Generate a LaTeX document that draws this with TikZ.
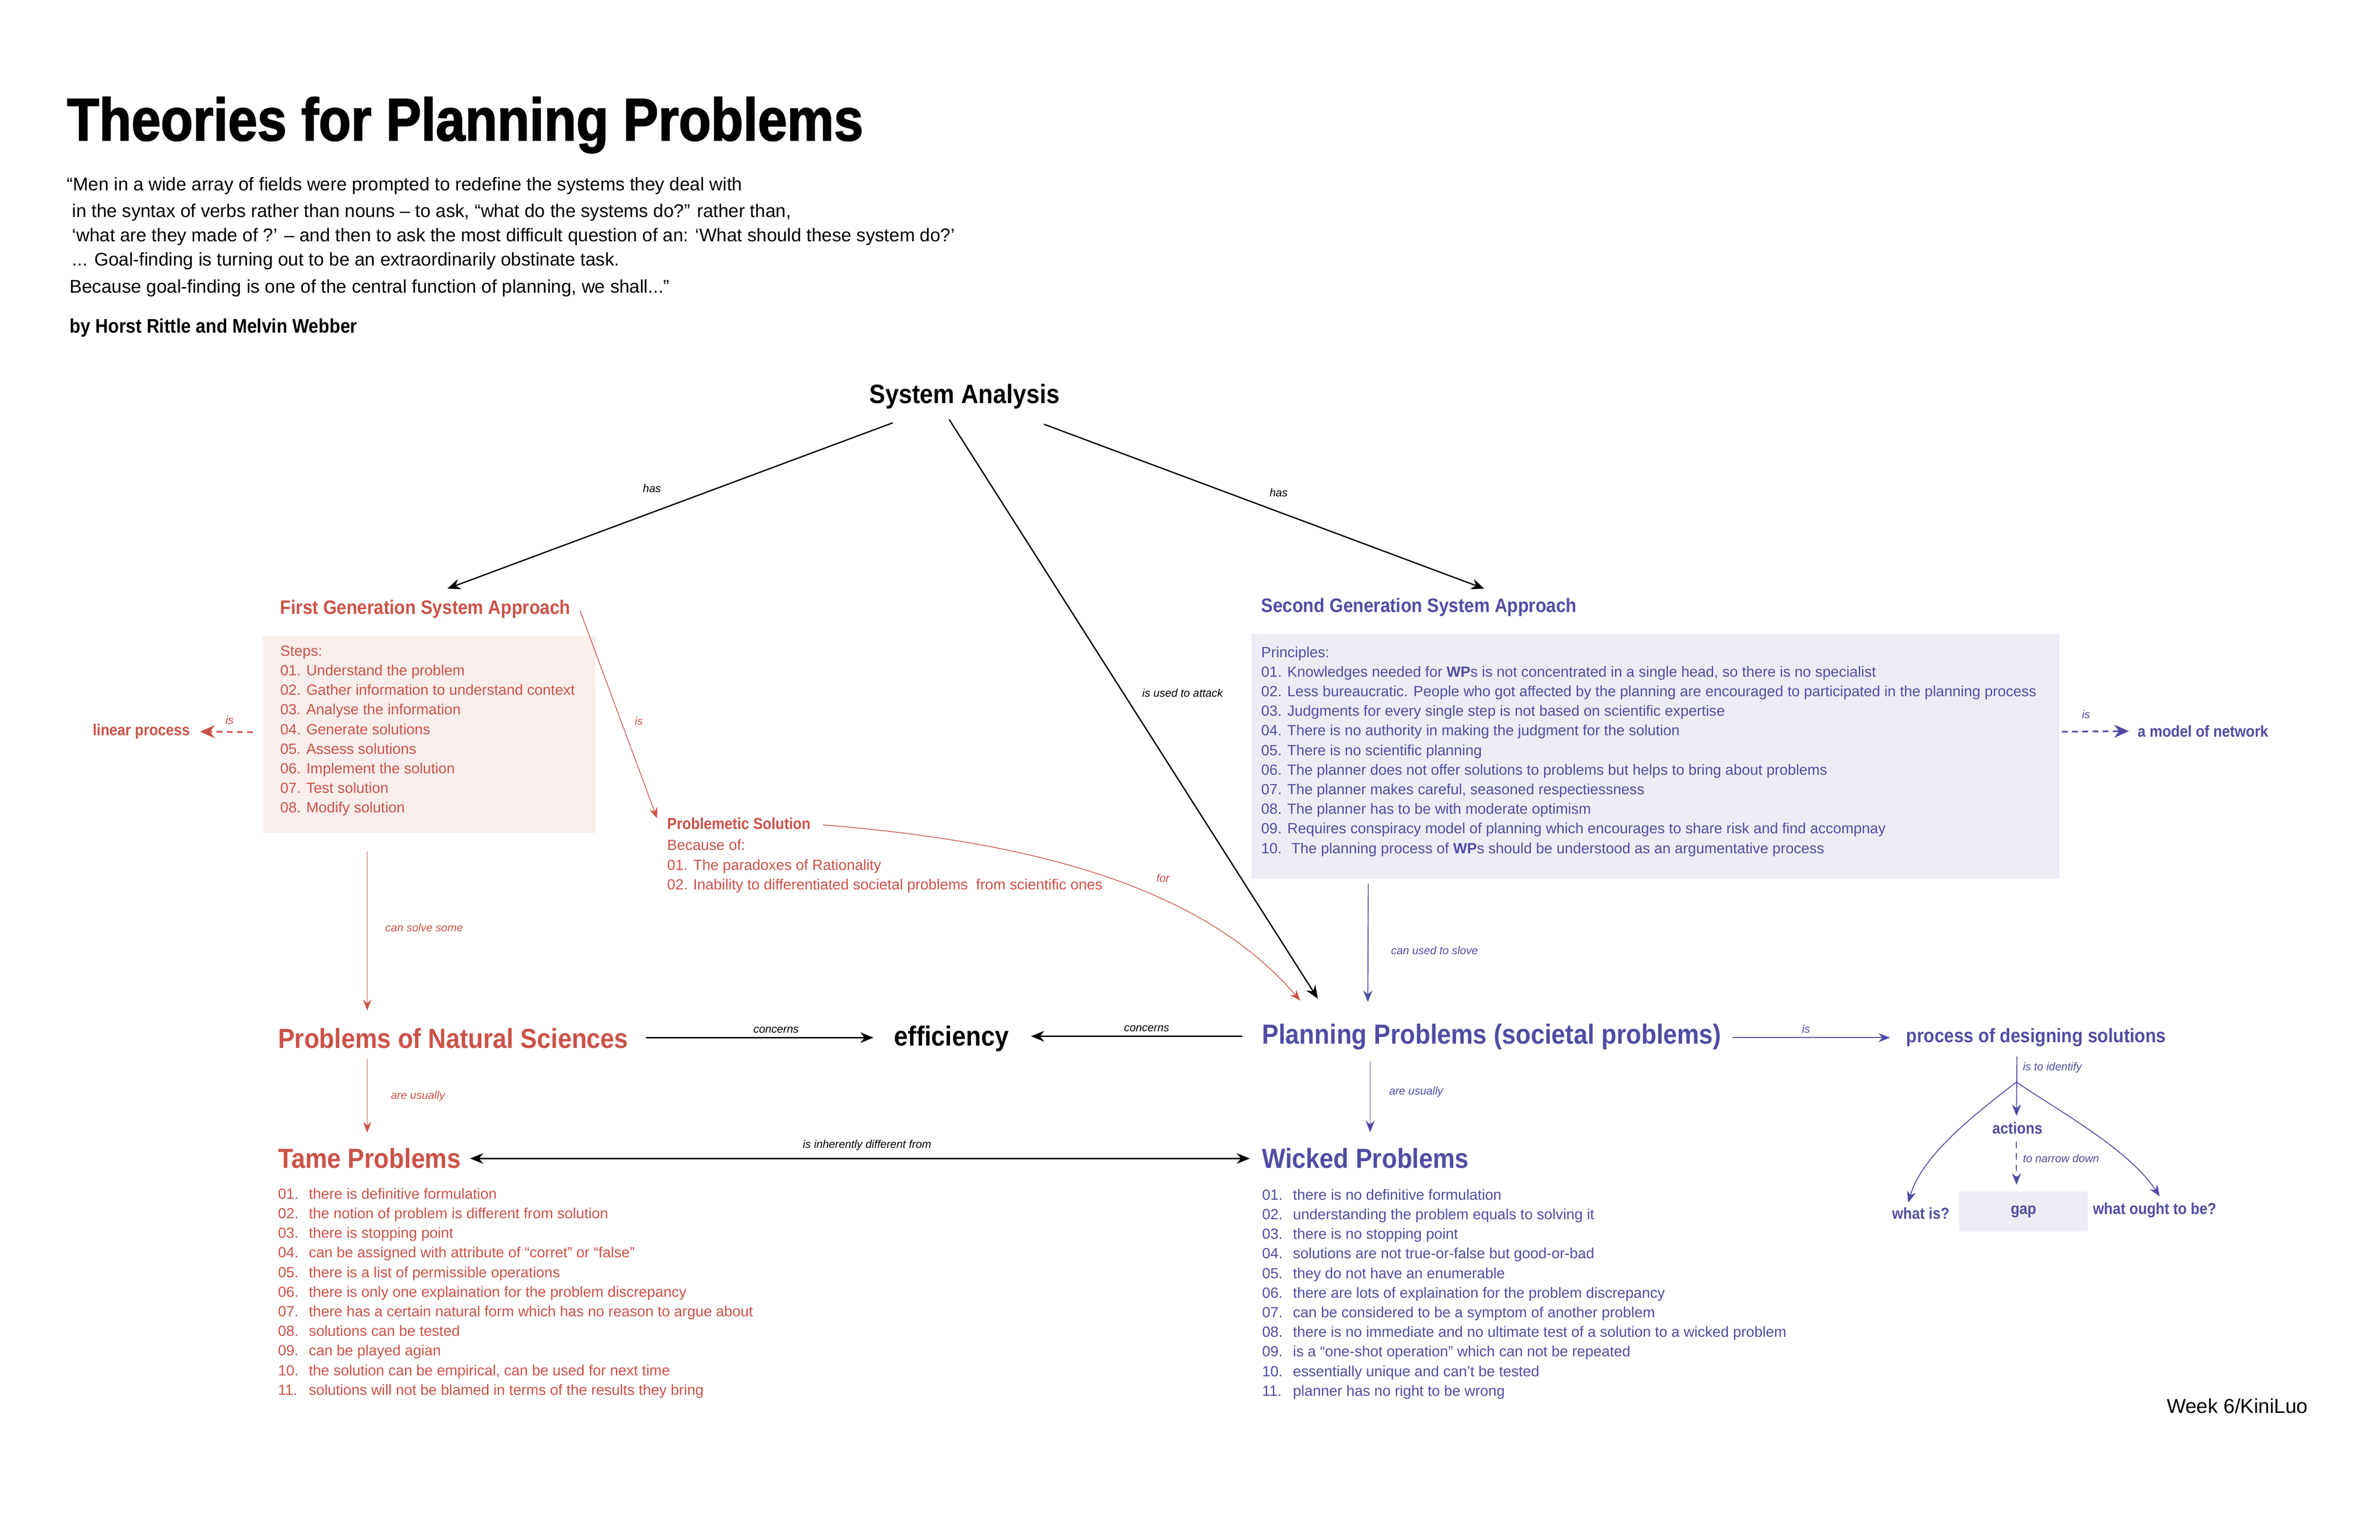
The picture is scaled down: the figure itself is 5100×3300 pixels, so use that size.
\documentclass[tikz,border=0pt]{standalone}
\usepackage{fontspec}
\setmainfont{Liberation Sans}
\newfontfamily\headfont[FakeStretch=0.9]{Liberation Sans}
\newfontfamily\titlefont[FakeStretch=0.877, BoldFeatures={FakeBold=1.8}]{Liberation Sans}
\usetikzlibrary{arrows.meta,positioning}

\definecolor{fgred}{RGB}{203,82,72}
\definecolor{sgblue}{RGB}{80,76,163}
\definecolor{fgfill}{RGB}{249,238,235}
\definecolor{sgfill}{RGB}{237,236,245}

\newcommand{\listnr}[1]{\makebox[0.66cm][l]{#1}}

\begin{document}
\begin{tikzpicture}[x=0.01cm, y=-0.01cm]

    \tikzset{
        txt/.style={inner sep=0, anchor=west},
        bighead/.style={txt, font=\headfont\bfseries\fontsize{16.8}{18}\selectfont},
        head/.style={txt, font=\headfont\bfseries\fontsize{11.9}{14}\selectfont},
        smallhead/.style={txt, font=\headfont\bfseries\fontsize{9.7}{12}\selectfont},
        quote/.style={inner sep=0, anchor=base west, font=\fontsize{11.2}{14}\selectfont},
        listtxt/.style={inner sep=0, anchor=north west, align=left, font=\fontsize{9}{11.95}\selectfont},
        lbl/.style={inner sep=0, font=\itshape\fontsize{6.8}{8}\selectfont},
        blackarrow/.style={-{Stealth[length=8pt,width=6.5pt]}, line width=0.8pt},
        redarrow/.style={fgred, -{Stealth[length=6.5pt,width=5pt]}, line width=0.45pt},
        bluearrow/.style={sgblue, -{Stealth[length=7pt,width=5.5pt]}, line width=0.55pt},
        dasharrow/.style={-{Stealth[length=9pt,width=8pt]}, line width=1pt, dash pattern=on 3.5pt off 2.7pt}
    }

    \useasboundingbox (0,0) rectangle (5100,3300);

    % Kopf
    \node[inner sep=0, anchor=base west, font=\titlefont\bfseries\fontsize{36.6}{40}\selectfont] (title) at (143,301) {Theories for Planning Problems};
    \node[quote] (q1) at (143,409) {“Men in a wide array of fields were prompted to redefine the systems they deal with};
    \node[quote] (q2) at (143,466) {\ in the syntax of verbs rather than nouns – to ask, “what do the systems do?” rather than,};
    \node[quote] (q3) at (143,518) {\ ‘what are they made of ?’ – and then to ask the most difficult question of an: ‘What should these system do?’};
    \node[quote] (q4) at (143,570) {\ ... Goal-finding is turning out to be an extraordinarily obstinate task.};
    \node[quote] (q5) at (149,628) {Because goal-finding is one of the central function of planning, we shall...”};
    \node[inner sep=0, anchor=base west, font=\headfont\bfseries\fontsize{12}{14}\selectfont] (authors) at (149,713) {by Horst Rittle and Melvin Webber};

    \node[inner sep=0, font=\headfont\bfseries\fontsize{16.2}{18}\selectfont] (sysan) at (2067,850) {System Analysis};

    % erste Generation
    \node[head, text=fgred] (fgsa) at (600,1305) {First Generation System Approach};
    \node[fill=fgfill, inner sep=0, anchor=north west, minimum width=7.13cm, minimum height=4.21cm] (fgbox) at (562,1363) {};
    \node[listtxt, text=fgred] (fgsteps) at (600,1383) {Steps:\\01. Understand the problem\\02. Gather information to understand context\\03. Analyse the information\\04. Generate solutions\\05. Assess solutions\\06. Implement the solution\\07. Test solution\\08. Modify solution};
    \node[smallhead, text=fgred] (linear) at (198,1568) {linear process};
    \node[smallhead, text=fgred] (probsol) at (1429,1765) {Problemetic Solution};
    \node[listtxt, text=fgred] (probsolbody) at (1429,1799) {Because of:\\01. The paradoxes of Rationality\\02. Inability to differentiated societal problems~ from scientific ones};

    % zweite Generation
    \node[head, text=sgblue] (sgsa) at (2702,1301) {Second Generation System Approach};
    \node[fill=sgfill, inner sep=0, anchor=north west, minimum width=17.3cm, minimum height=5.25cm] (sgbox) at (2681,1358) {};
    \node[listtxt, text=sgblue] (sgprinciples) at (2702,1385) {Principles:\\01. Knowledges needed for \textbf{WP}s is not concentrated in a single head, so there is no specialist\\02. Less bureaucratic. People who got affected by the planning are encouraged to participated in the planning process\\03. Judgments for every single step is not based on scientific expertise\\04. There is no authority in making the judgment for the solution\\05. There is no scientific planning\\06. The planner does not offer solutions to problems but helps to bring about problems\\07. The planner makes careful, seasoned respectiessness\\08. The planner has to be with moderate optimism\\09. Requires conspiracy model of planning which encourages to share risk and find accompnay\\10.~ The planning process of \textbf{WP}s should be understood as an argumentative process};
    \node[smallhead, text=sgblue] (network) at (4580,1567) {a model of network};

    % Probleme
    \node[bighead, text=fgred] (natural) at (595,2225) {Problems of Natural Sciences};
    \node[bighead, anchor=center] (efficiency) at (2039,2226) {efficiency};
    \node[bighead, text=sgblue] (planning) at (2704,2222) {Planning Problems (societal problems)};
    \node[head, text=sgblue] (process) at (4084,2224) {process of designing solutions};
    \node[bighead, text=fgred] (tame) at (595,2482) {Tame Problems};
    \node[bighead, text=sgblue] (wicked) at (2704,2482) {Wicked Problems};

    \node[listtxt, text=fgred] (tamelist) at (595,2546) {\listnr{01.}there is definitive formulation\\\listnr{02.}the notion of problem is different from solution\\\listnr{03.}there is stopping point\\\listnr{04.}can be assigned with attribute of “corret” or “false”\\\listnr{05.}there is a list of permissible operations\\\listnr{06.}there is only one explaination for the problem discrepancy\\\listnr{07.}there has a certain natural form which has no reason to argue about\\\listnr{08.}solutions can be tested\\\listnr{09.}can be played agian\\\listnr{10.}the solution can be empirical, can be used for next time\\\listnr{11.}solutions will not be blamed in terms of the results they bring};
    \node[listtxt, text=sgblue] (wickedlist) at (2704,2548) {\listnr{01.}there is no definitive formulation\\\listnr{02.}understanding the problem equals to solving it\\\listnr{03.}there is no stopping point\\\listnr{04.}solutions are not true-or-false but good-or-bad\\\listnr{05.}they do not have an enumerable\\\listnr{06.}there are lots of explaination for the problem discrepancy\\\listnr{07.}can be considered to be a symptom of another problem\\\listnr{08.}there is no immediate and no ultimate test of a solution to a wicked problem\\\listnr{09.}is a “one-shot operation” which can not be repeated\\\listnr{10.}essentially unique and can’t be tested\\\listnr{11.}planner has no right to be wrong};

    % Loesungsprozess
    \node[smallhead, text=sgblue, anchor=center] (actions) at (4323,2418) {actions};
    \node[fill=sgfill, inner sep=0, minimum width=2.75cm, minimum height=0.86cm, text=sgblue, font=\headfont\bfseries\fontsize{9.7}{12}\selectfont] (gap) at (4336,2597) {gap};
    \node[smallhead, text=sgblue, anchor=east] (whatis) at (4178,2601) {what is?};
    \node[smallhead, text=sgblue] (ought) at (4484,2594) {what ought to be?};
    \coordinate (branch) at (4321,2319);

    \node[inner sep=0, anchor=east, font=\fontsize{12.3}{14}\selectfont] (week) at (4946,3013) {Week 6/KiniLuo};

    % Verbindungen
    \draw[blackarrow] ([shift={(-154,29)}]sysan.south) -- ([shift={(47,-23)}]fgsa.north);
    \draw[blackarrow] ([shift={(-33,22)}]sysan.south) -- ([shift={(120,-53)}]planning.north west);
    \draw[blackarrow] ([shift={(170,32)}]sysan.south) -- ([shift={(140,-19)}]sgsa.north);

    \draw[redarrow] ([shift={(20,4)}]fgsa.east) -- ([shift={(-21,-11)}]probsol.west);
    \draw[dasharrow, fgred] ([shift={(-20,-5)}]fgbox.west) -- ([shift={(21,0)}]linear.east);
    \draw[redarrow] ([shift={(26,3)}]probsol.east) .. controls +(391,32) and +(-226,-265) .. ([shift={(82,-49)}]planning.north west);
    \draw[redarrow] ([shift={(225,39)}]fgbox.south west) -- ([shift={(192,-37)}]natural.north west);
    \draw[redarrow] ([shift={(192,22)}]natural.south west) -- ([shift={(192,-32)}]tame.north west);

    \draw[bluearrow] ([shift={(251,9)}]sgbox.south west) -- ([shift={(227,-46)}]planning.north west);
    \draw[dasharrow, sgblue] ([shift={(5,-53)}]sgbox.east) -- ([shift={(-18,0)}]network.west);
    \draw[bluearrow] ([shift={(23,2)}]planning.east) -- ([shift={(-34,0)}]process.west);
    \draw[bluearrow] ([shift={(232,24)}]planning.south west) -- ([shift={(232,-33)}]wicked.north west);

    \draw[blackarrow] ([shift={(37,-1)}]natural.east) -- ([shift={(-44,-2)}]efficiency.west);
    \draw[blackarrow] ([shift={(-42,-1)}]planning.west) -- ([shift={(47,-5)}]efficiency.east);
    \draw[blackarrow, {Stealth[length=8pt,width=6.5pt]}-{Stealth[length=8pt,width=6.5pt]}] ([shift={(19,1)}]tame.east) -- ([shift={(-26,1)}]wicked.west);

    \draw[bluearrow] ([shift={(-41,20)}]process.south) -- ([shift={(-2,-13)}]actions.north);
    \draw[bluearrow, dash pattern=on 4pt off 3pt] ([shift={(-2,16)}]actions.south) -- ([shift={(-15,-14)}]gap.north);
    \draw[bluearrow] (branch) .. controls +(-71,56) and +(31,-108) .. ([shift={(-89,-10)}]whatis.north east);
    \draw[bluearrow] (branch) .. controls +(79,56) and +(-68,-104) .. ([shift={(144,-13)}]ought.north west);

    % Beschriftungen
    \node[lbl] (hasl) at (1397,1047) {has};
    \node[lbl] (attack) at (2534,1485) {is used to attack};
    \node[lbl] (hasr) at (2740,1056) {has};
    \node[lbl, text=fgred] (isprob) at (1369,1545) {is};
    \node[lbl, text=fgred] (islinear) at (492,1543) {is};
    \node[lbl, text=fgred] (for) at (2492,1882) {for};
    \node[lbl, text=fgred] (solvesome) at (909,1988) {can solve some};
    \node[lbl, text=sgblue] (slove) at (3074,2037) {can used to slove};
    \node[lbl, text=sgblue] (isnetwork) at (4470,1531) {is};
    \node[lbl] (concl) at (1663,2208) {concerns};
    \node[lbl] (concr) at (2457,2204) {concerns};
    \node[lbl, text=sgblue] (isprocess) at (3870,2205) {is};
    \node[lbl, text=fgred, anchor=west] (usuallyl) at (837,2349) {are usually};
    \node[lbl, text=sgblue, anchor=west] (usuallyr) at (2976,2340) {are usually};
    \node[lbl] (different) at (1858,2455) {is inherently different from};
    \node[lbl, text=sgblue, anchor=west] (identify) at (4334,2288) {is to identify};
    \node[lbl, text=sgblue, anchor=west] (narrow) at (4334,2483) {to narrow down};

\end{tikzpicture}
\end{document}
